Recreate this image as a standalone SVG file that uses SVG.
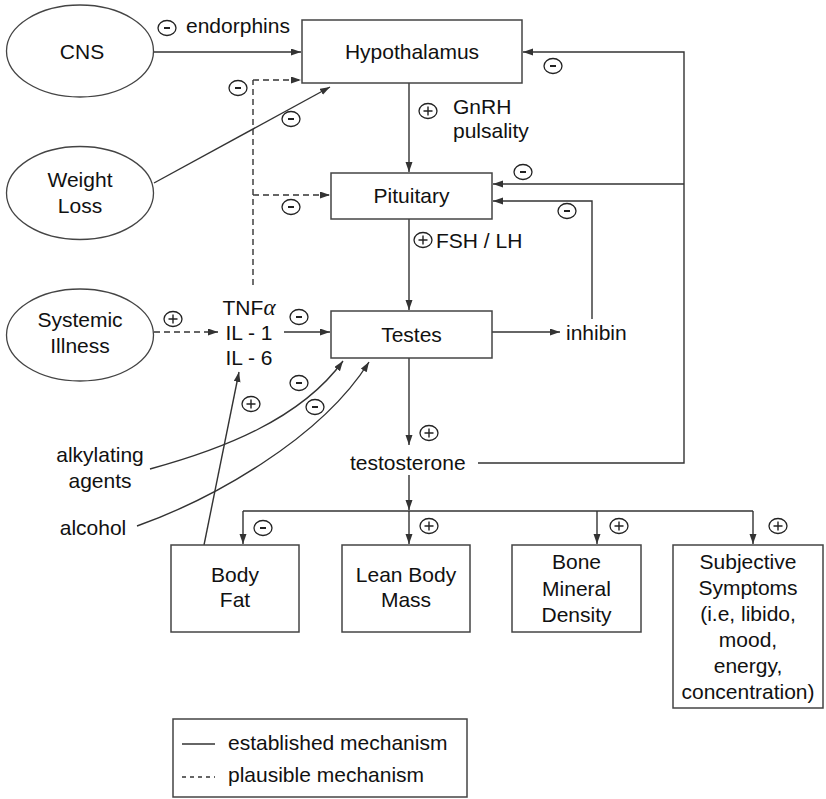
<svg xmlns="http://www.w3.org/2000/svg" width="826" height="799" viewBox="0 0 826 799">
<style>
text{font-family:"Liberation Sans",Arial,sans-serif;font-size:21px;fill:#111}
.m{text-anchor:middle}
.box{fill:#fff;stroke:#444;stroke-width:1.5}
.ell{fill:#fff;stroke:#444;stroke-width:1.3}
.ln{fill:none;stroke:#333;stroke-width:1.4}
.ar{marker-end:url(#ah)}
.d{stroke-dasharray:6,4}
.sg{fill:#fff;stroke:#222;stroke-width:1.3}
.sl{stroke:#222;stroke-width:2;fill:none}
</style>
<defs>
<marker id="ah" markerUnits="userSpaceOnUse" markerWidth="11" markerHeight="8" refX="10" refY="3.5" orient="auto">
<path d="M0,0 L10,3.5 L0,7 z" fill="#333"/>
</marker>
<g id="minus"><ellipse class="sg" rx="9" ry="7.5"/><path class="sl" d="M-3,0 H3"/></g>
<g id="plus"><ellipse class="sg" rx="9" ry="7.5"/><path class="sl" d="M-4.5,0 H4.5 M0,-4.5 V4.5" style="stroke-width:1.4"/></g>
</defs>

<g id="connectors">
<path class="ln ar" d="M154,52 H301"/>
<path class="ln ar" d="M154,183 L330,87"/>
<path class="ln d" d="M253,285 V80"/>
<path class="ln d ar" d="M253,80 H301"/>
<path class="ln d ar" d="M253,195 H330"/>
<path class="ln ar" d="M409,83 V172"/>
<path class="ln ar" d="M409,219 V310"/>
<path class="ln ar" d="M409,358 V445"/>
<path class="ln ar" d="M492,332 H560"/>
<path class="ln ar" d="M592,319 V201 H493"/>
<path class="ln ar" d="M478,463 H684 V52 H523"/>
<path class="ln ar" d="M684,184 H493"/>
<path class="ln d ar" d="M154,332 H218"/>
<path class="ln ar" d="M284,332 H330"/>
<path class="ln ar" d="M409,475 V510"/>
<path class="ln" d="M243,511 H753"/>
<path class="ln ar" d="M243,511 V544"/>
<path class="ln ar" d="M409,511 V544"/>
<path class="ln ar" d="M597,511 V544"/>
<path class="ln ar" d="M753,511 V544"/>
<path class="ln ar" d="M204,545 L239,372"/>
<path class="ln ar" d="M150,469 C220,450 300,420 343,361"/>
<path class="ln ar" d="M137,526 C210,500 320,440 369,362"/>
</g>

<g id="signs">
<use href="#minus" x="167" y="28"/>
<use href="#minus" x="238" y="88"/>
<use href="#minus" x="291" y="119"/>
<use href="#minus" x="291" y="207"/>
<use href="#plus" x="428" y="111"/>
<use href="#minus" x="553" y="66"/>
<use href="#minus" x="523" y="172"/>
<use href="#minus" x="567" y="211"/>
<use href="#plus" x="423" y="240"/>
<use href="#plus" x="173" y="319"/>
<use href="#minus" x="299" y="317"/>
<use href="#minus" x="299" y="383"/>
<use href="#minus" x="315" y="407"/>
<use href="#plus" x="251" y="404"/>
<use href="#plus" x="429" y="433"/>
<use href="#minus" x="263" y="528"/>
<use href="#plus" x="429" y="526"/>
<use href="#plus" x="619" y="526"/>
<use href="#plus" x="778" y="526"/>
</g>

<g id="labels">
<text x="186" y="33">endorphins</text>
<text x="453" y="114">GnRH</text>
<text x="453" y="138">pulsality</text>
<text x="436" y="248">FSH / LH</text>
<text x="566" y="340">inhibin</text>
<text x="350" y="470">testosterone</text>
</g>

<g id="cns"><ellipse class="ell" cx="80" cy="51" rx="73.5" ry="46"/><text class="m" x="82" y="59">CNS</text></g>
<g id="weight-loss"><ellipse class="ell" cx="80" cy="193" rx="73.5" ry="46.5"/><text class="m" x="80" y="187">Weight</text><text class="m" x="80" y="213">Loss</text></g>
<g id="systemic-illness"><ellipse class="ell" cx="80" cy="335" rx="73.5" ry="46"/><text class="m" x="80" y="327">Systemic</text><text class="m" x="80" y="353">Illness</text></g>

<g id="hypothalamus"><rect class="box" x="302" y="20" width="220" height="63"/><text class="m" x="412" y="59">Hypothalamus</text></g>
<g id="pituitary"><rect class="box" x="331" y="173" width="161" height="46"/><text class="m" x="411.5" y="203">Pituitary</text></g>
<g id="testes"><rect class="box" x="331" y="311" width="161" height="47"/><text class="m" x="411.5" y="342">Testes</text></g>

<g id="cytokines"><text class="m" x="249" y="315">TNF<tspan font-family="'Liberation Serif',serif" font-style="italic" font-size="23">α</tspan></text><text class="m" x="249" y="340">IL - 1</text><text class="m" x="249" y="365">IL - 6</text></g>

<g id="alkylating-agents"><text class="m" x="100" y="462">alkylating</text><text class="m" x="100" y="488">agents</text></g>
<g id="alcohol"><text class="m" x="93" y="535">alcohol</text></g>

<g id="body-fat"><rect class="box" x="171" y="545" width="128" height="87"/><text class="m" x="235" y="582">Body</text><text class="m" x="235" y="607">Fat</text></g>
<g id="lean-body-mass"><rect class="box" x="342" y="545" width="128" height="87"/><text class="m" x="406" y="582">Lean Body</text><text class="m" x="406" y="607">Mass</text></g>
<g id="bone-mineral-density"><rect class="box" x="512" y="545" width="129" height="87"/><text class="m" x="576.5" y="569">Bone</text><text class="m" x="576.5" y="596">Mineral</text><text class="m" x="576.5" y="622">Density</text></g>
<g id="subjective-symptoms"><rect class="box" x="673" y="545" width="150" height="163"/>
<text class="m" x="748" y="569">Subjective</text><text class="m" x="748" y="595">Symptoms</text><text class="m" x="748" y="621">(i.e, libido,</text><text class="m" x="748" y="647">mood,</text><text class="m" x="748" y="673">energy,</text><text class="m" x="748" y="699">concentration)</text></g>

<g id="legend"><rect class="box" x="173" y="719" width="294" height="78"/>
<path class="ln" d="M182,744 H215"/><path class="ln d" d="M182,777 H215" style="stroke-dasharray:4,4"/>
<text x="228" y="750">established mechanism</text><text x="228" y="782">plausible mechanism</text></g>
</svg>
